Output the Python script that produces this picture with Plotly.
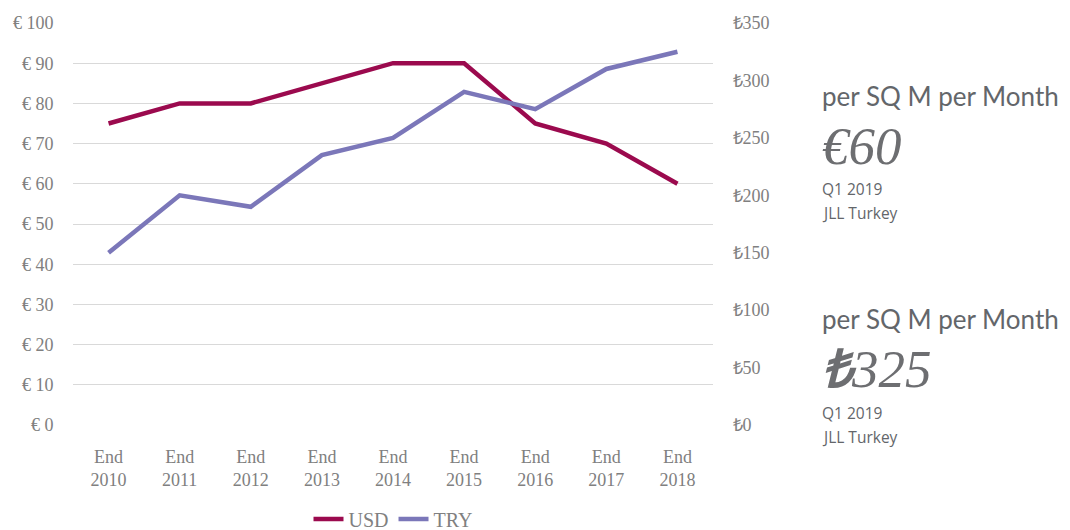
import plotly.graph_objects as go

categories = ["End<br>2010", "End<br>2011", "End<br>2012", "End<br>2013", "End<br>2014",
              "End<br>2015", "End<br>2016", "End<br>2017", "End<br>2018"]
usd_values = [75, 80, 80, 85, 90, 90, 75, 70, 60]
try_values = [150, 200, 190, 235, 250, 290, 275, 310, 325]
left_ticks = [0, 10, 20, 30, 40, 50, 60, 70, 80, 90, 100]
right_ticks = [0, 50, 100, 150, 200, 250, 300, 350]

USD_COLOR = "#9B0A4E"
TRY_COLOR = "#7B77B9"
TICK_FONT = dict(family="Liberation Serif", size=18, color="#808080")

fig = go.Figure()
fig.add_trace(go.Scatter(x=categories, y=usd_values, name="USD", mode="lines",
                         line=dict(color=USD_COLOR, width=4.5), yaxis="y"))
fig.add_trace(go.Scatter(x=categories, y=try_values, name="TRY", mode="lines",
                         line=dict(color=TRY_COLOR, width=4.5), yaxis="y2"))

# page body adds an 8px offset; work in screen pixels and compensate
O = 8
L, R, T, B = 73 - O, 713 - O, 23 - O, 425 - O
W, H = 1070 - O, 530 - O

def px(x):
    return (x - O - L) / (R - L)

def py(y):
    return (B - (y - O)) / (B - T)

fig.update_layout(
    width=W, height=H,
    margin=dict(l=L, r=W - R, t=T, b=H - B, autoexpand=False),
    plot_bgcolor="white", paper_bgcolor="white",
    showlegend=True,
    legend=dict(orientation="h", x=0.5, xanchor="center", y=py(519), yanchor="middle",
                font=dict(family="Liberation Serif", size=20, color="#808080"),
                itemwidth=30, tracegroupgap=0),
    xaxis=dict(type="category", range=[-0.5, 8.5], showgrid=False, showline=False,
               ticks="outside", ticklen=15, tickcolor="rgba(0,0,0,0)",
               tickfont=TICK_FONT, zeroline=False, automargin=False),
    yaxis=dict(range=[0, 100], tickmode="array", tickvals=left_ticks,
               ticktext=["€ %d" % v for v in left_ticks],
               showgrid=True, gridcolor="#d9d9d9", gridwidth=1, zeroline=False,
               showline=False, ticks="outside", ticklen=15, tickcolor="rgba(0,0,0,0)",
               tickfont=TICK_FONT, automargin=False),
    yaxis2=dict(range=[0, 350], tickmode="array", tickvals=right_ticks,
                ticktext=["₺%d" % v for v in right_ticks], overlaying="y",
                side="right", showgrid=False, zeroline=False, showline=False,
                ticks="outside", ticklen=15, tickcolor="rgba(0,0,0,0)",
                tickfont=TICK_FONT, automargin=False),
)

SMALL = dict(family="Open Sans", size=15.5, color="#63666a")
BIG = dict(family="Liberation Serif", size=53, color="#6d6e71")
HEAD = dict(family="Lato", size=26, color="#63666a")
ann = [
    ("per SQ M per Month", 96, HEAD),
    ("<i>€60</i>", 146, BIG),
    ("Q1 2019", 189, SMALL),
    ("JLL Turkey", 213, SMALL),
    ("per SQ M per Month", 319, HEAD),
    ("<i><b>₺</b>325</i>", 369, BIG),
    ("Q1 2019", 413, SMALL),
    ("JLL Turkey", 437, SMALL),
]
for text, y, font in ann:
    fig.add_annotation(text=text, xref="paper", yref="paper", x=px(820), y=py(y),
                       xanchor="left", yanchor="middle", showarrow=False, font=font)

fig.write_html("out.html")
